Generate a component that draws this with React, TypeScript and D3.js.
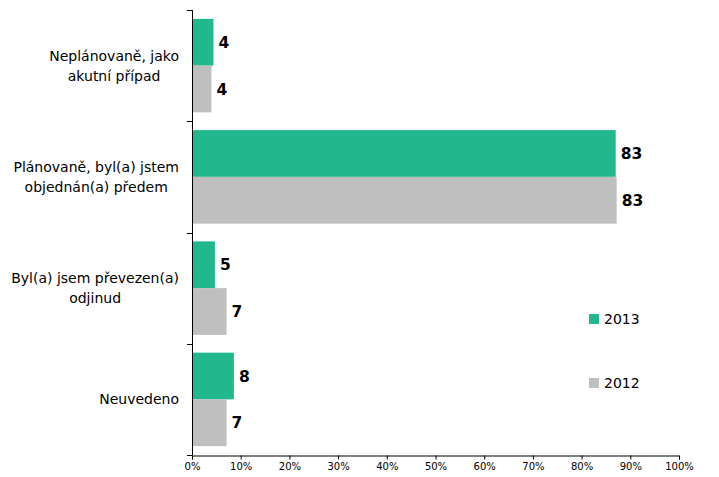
import React, { useEffect, useRef } from "react";
import * as d3 from "d3";

const categories = [
  ["Neplánovaně, jako", "akutní případ"],
  ["Plánovaně, byl(a) jstem", "objednán(a) předem"],
  ["Byl(a) jsem převezen(a)", "odjinud"],
  ["Neuvedeno"],
];
const seriesNames = ["2013", "2012"];
const values2013 = [4.4, 87, 4.7, 8.6];
const values2012 = [4.0, 87.2, 7.1, 7.1];
const labels2013 = ["4", "83", "5", "8"];
const labels2012 = ["4", "83", "7", "7"];
const xTicks = [0, 10, 20, 30, 40, 50, 60, 70, 80, 90, 100];

const W = 719;
const H = 477;
const GREEN = "#20B88C";
const GRAY = "#BFBFBF";
const labelFont = "'DejaVu Sans', Verdana, sans-serif";

export default function App() {
  const ref = useRef<SVGSVGElement | null>(null);

  useEffect(() => {
    const svg = d3.select(ref.current);
    svg.selectAll("*").remove();

    const x = d3.scaleLinear().domain([0, 100]).range([192, 679]);
    const ids = categories.map((_, i) => String(i));
    const y = d3.scaleBand<string>().domain(ids).range([10, 455]).padding(0);
    const sub = d3
      .scaleBand<string>()
      .domain(seriesNames)
      .range([0, y.bandwidth()])
      .paddingInner(0)
      .paddingOuter(0.19);

    const series = [
      { name: "2013", values: values2013, labels: labels2013, color: GREEN },
      { name: "2012", values: values2012, labels: labels2012, color: GRAY },
    ];

    // bars
    series.forEach((s) => {
      const g = svg.append("g");
      g.selectAll("rect")
        .data(s.values)
        .join("rect")
        .attr("x", x(0))
        .attr("y", (_, i) => (y(String(i)) as number) + (sub(s.name) as number))
        .attr("width", (d) => x(d) - x(0))
        .attr("height", sub.bandwidth())
        .attr("fill", s.color);
      g.selectAll("text")
        .data(s.values)
        .join("text")
        .attr("x", (d) => x(d) + 5)
        .attr(
          "y",
          (_, i) =>
            (y(String(i)) as number) + (sub(s.name) as number) + sub.bandwidth() / 2
        )
        .attr("dy", "0.36em")
        .attr("font-family", labelFont)
        .attr("font-weight", "bold")
        .attr("font-size", 15.5)
        .attr("fill", "#000")
        .text((_, i) => s.labels[i]);
    });

    // y axis line + ticks
    const axisG = svg.append("g").attr("stroke", "#000").attr("stroke-width", 1);
    axisG
      .append("line")
      .attr("x1", x(0) + 0.5)
      .attr("x2", x(0) + 0.5)
      .attr("y1", 10)
      .attr("y2", 455);
    const yTickPos = ids.map((id) => y(id) as number).concat([455]);
    axisG
      .selectAll("line.yt")
      .data(yTickPos)
      .join("line")
      .attr("class", "yt")
      .attr("x1", x(0) - 5)
      .attr("x2", x(0) + 0.5)
      .attr("y1", (d) => Math.round(d) + 0.5)
      .attr("y2", (d) => Math.round(d) + 0.5);

    // x axis
    const xAxis = d3
      .axisBottom(x)
      .tickValues(xTicks)
      .tickSize(4)
      .tickPadding(3)
      .tickFormat((d) => `${d}%`);
    const xg = svg.append("g").attr("transform", "translate(0,455.5)").call(xAxis);
    xg.select(".domain").attr("stroke", "#000");
    xg.selectAll(".tick line").attr("stroke", "#000");
    xg.selectAll(".tick text")
      .attr("font-family", "'DejaVu Sans', Verdana, sans-serif")
      .attr("font-size", 10)
      .attr("fill", "#000");

    // category labels: lines centered in a block right-aligned at x=179
    const rightEdge = 179;
    categories.forEach((lines, i) => {
      const cy = (y(String(i)) as number) + y.bandwidth() / 2;
      const g = svg.append("g");
      const lh = 20;
      const texts = lines.map((line, j) =>
        g
          .append("text")
          .attr("y", cy + (j - (lines.length - 1) / 2) * lh)
          .attr("dy", "0.36em")
          .attr("font-family", "'DejaVu Sans', Tahoma, sans-serif")
          .attr("font-size", 14)
          .attr("fill", "#000")
          .attr("text-anchor", "middle")
          .text(line)
      );
      const widths = texts.map((t) => (t.node() as SVGTextElement).getComputedTextLength());
      const maxW = Math.max(...widths);
      texts.forEach((t) => t.attr("x", rightEdge - maxW / 2));
    });

    // legend
    const legY = [319, 383];
    series.forEach((s, i) => {
      svg
        .append("rect")
        .attr("x", 589)
        .attr("y", legY[i] - 5)
        .attr("width", 10)
        .attr("height", 10)
        .attr("fill", s.color);
      svg
        .append("text")
        .attr("x", 604)
        .attr("y", legY[i])
        .attr("dy", "0.36em")
        .attr("font-family", "'DejaVu Sans', Tahoma, sans-serif")
        .attr("font-size", 14)
        .attr("fill", "#000")
        .text(s.name);
    });
  }, []);

  return (
    <div style={{ position: "fixed", left: 0, top: 0 }}>
      <svg ref={ref} width={W} height={H} style={{ display: "block", background: "#fff" }} />
    </div>
  );
}
